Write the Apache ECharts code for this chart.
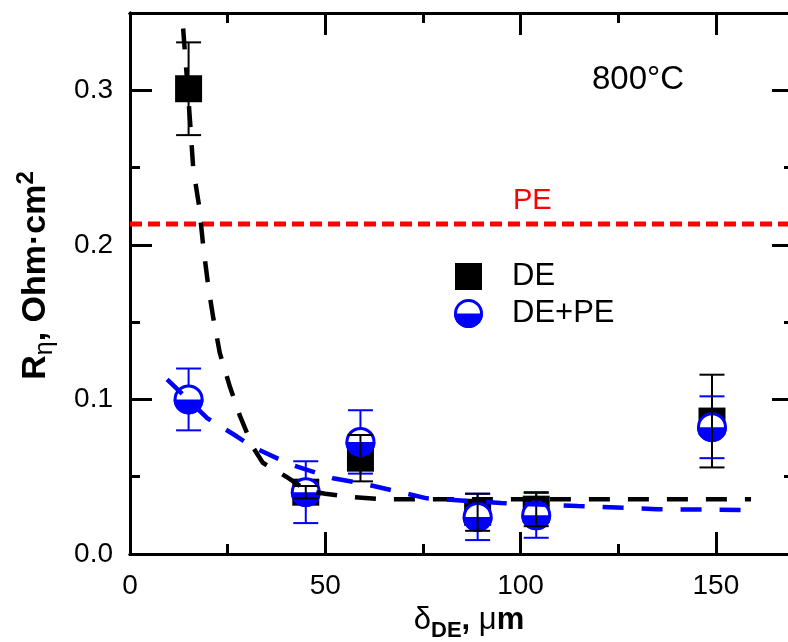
<!DOCTYPE html>
<html>
<head>
<meta charset="utf-8">
<script src="https://cdn.jsdelivr.net/npm/echarts@6/dist/echarts.min.js"></script>
<style>html,body{margin:0;padding:0;background:#fff}#c{width:788px;height:642px}</style>
</head>
<body>
<div id="c"></div>
<script>
// ---- data ----
const deX = [15, 45, 59, 89, 104, 149];
const deY = [0.301, 0.040, 0.062, 0.027, 0.029, 0.086];
const deErr = [0.030, 0.004, 0.015, 0.012, 0.011, 0.030];

const dpX = [15, 45, 59, 89, 104, 149];
const dpY = [0.100, 0.040, 0.0725, 0.024, 0.025, 0.082];
const dpErr = [0.020, 0.020, 0.0205, 0.015, 0.0145, 0.020];

const peLevel = 0.2135;
const peX = [0, 170];

const fitDeX = [13.6, 14.5, 15.4, 16.2, 17.7, 18.8, 20.1, 21.3, 23, 25.6, 28.2, 31.5, 34, 40, 45.3, 50, 56, 64, 80, 100, 130, 159];
const fitDeY = [0.340, 0.31, 0.279, 0.249, 0.225, 0.198, 0.172, 0.153, 0.130, 0.108, 0.089, 0.069, 0.059, 0.050, 0.041, 0.039, 0.037, 0.0355, 0.0355, 0.0355, 0.0355, 0.0355];

const fitDpX = [9.5, 19.7, 27.4, 31.6, 41, 52, 60.7, 67.5, 76, 95, 114.6, 135, 156.4];
const fitDpY = [0.113, 0.088, 0.076, 0.069, 0.058, 0.049, 0.045, 0.041, 0.036, 0.033, 0.031, 0.029, 0.0285];

const xTicks = {min: 0, max: 170, major: 50, minor: 25};
const yTicks = {min: 0, max: 0.35, major: 0.1, minor: 0.05};

// ---- styles ----
const FONT = 'Liberation Sans, Arial, sans-serif';
const BLUE = '#0000ff';
const RED = '#ff0000';

const pairs = (xs, ys) => xs.map((x, i) => [x, ys[i]]);
const errData = (xs, ys, es) => xs.map((x, i) => [x, ys[i] - es[i], ys[i] + es[i]]);

function errRender(color) {
  return function (params, api) {
    const x = api.value(0);
    const lo = api.coord([x, api.value(1)]);
    const hi = api.coord([x, api.value(2)]);
    const w = 12.5;
    const st = {stroke: color, lineWidth: 2};
    return {type: 'group', children: [
      {type: 'line', shape: {x1: lo[0], y1: lo[1], x2: hi[0], y2: hi[1]}, style: st},
      {type: 'line', shape: {x1: lo[0] - w, y1: lo[1], x2: lo[0] + w, y2: lo[1]}, style: st},
      {type: 'line', shape: {x1: hi[0] - w, y1: hi[1], x2: hi[0] + w, y2: hi[1]}, style: st}
    ]};
  };
}

function halfCircle(cx, cy, r) {
  return [
    {type: 'circle', shape: {cx: cx, cy: cy, r: r}, style: {fill: '#fff', stroke: BLUE, lineWidth: 3}},
    {type: 'sector', shape: {cx: cx, cy: cy, r0: 0, r: r + 1.5, startAngle: 0, endAngle: Math.PI, clockwise: true}, style: {fill: BLUE}}
  ];
}

const axisLineStyle = {show: true, onZero: false, lineStyle: {color: '#000', width: 3}};

function xAxisDef(pos, interval, tickLen, labels) {
  return {
    type: 'value', position: pos, min: xTicks.min, max: xTicks.max, interval: interval,
    axisLine: axisLineStyle,
    axisTick: {show: true, inside: true, length: tickLen, lineStyle: {color: '#000', width: 3}},
    axisLabel: labels ? {show: true, fontSize: 28, color: '#000', fontFamily: FONT, margin: 18, showMaxLabel: false} : {show: false},
    splitLine: {show: false}
  };
}
function yAxisDef(pos, interval, tickLen, labels) {
  return {
    type: 'value', position: pos, min: yTicks.min, max: yTicks.max, interval: interval,
    axisLine: axisLineStyle,
    axisTick: {show: true, inside: true, length: tickLen, lineStyle: {color: '#000', width: 3}},
    axisLabel: labels ? {show: true, fontSize: 28, color: '#000', fontFamily: FONT, margin: 17, showMaxLabel: false,
      formatter: v => v.toFixed(1)} : {show: false},
    splitLine: {show: false}
  };
}

const xMain = xAxisDef('bottom', xTicks.major, 22, true);
xMain.name = '{g|δ}{sub|DE}{b|, }{g|μ}{b|m}';
xMain.nameLocation = 'middle';
xMain.nameGap = 39;
xMain.nameTextStyle = {
  fontFamily: FONT, color: '#000', padding: [0, 0, 0, 14],
  rich: {
    g: {fontSize: 31, fontFamily: FONT, lineHeight: 44, verticalAlign: 'middle'},
    b: {fontSize: 31, fontWeight: 'bold', fontFamily: FONT, lineHeight: 44, verticalAlign: 'middle'},
    sub: {fontSize: 22, fontWeight: 'bold', fontFamily: FONT, lineHeight: 22, verticalAlign: 'bottom'}
  }
};

const yMain = yAxisDef('left', yTicks.major, 22, true);
yMain.name = '{b|R}{sub|η}{b|, Ohm·cm}{sup|2}';
yMain.nameLocation = 'middle';
yMain.nameRotate = 90;
yMain.nameGap = 72;
yMain.nameTextStyle = {
  fontFamily: FONT, color: '#000', padding: [0, 0, 0, 16],
  rich: {
    b: {fontSize: 34, fontWeight: 'bold', fontFamily: FONT, lineHeight: 44, verticalAlign: 'middle'},
    sub: {fontSize: 25, fontFamily: FONT, lineHeight: 22, verticalAlign: 'bottom'},
    sup: {fontSize: 24, fontWeight: 'bold', fontFamily: FONT, lineHeight: 22, verticalAlign: 'top'}
  }
};

const chart = echarts.init(document.getElementById('c'), null, {renderer: 'canvas'});
chart.setOption({
  animation: false,
  backgroundColor: '#fff',
  textStyle: {fontFamily: FONT},
  grid: {left: 130, right: -6, top: 13, bottom: 88, containLabel: false, outerBoundsMode: 'none'},
  xAxis: [
    xMain,
    xAxisDef('top', xTicks.major, 22, false),
    xAxisDef('bottom', xTicks.minor, 10, false),
    xAxisDef('top', xTicks.minor, 10, false)
  ],
  yAxis: [
    yMain,
    yAxisDef('right', yTicks.major, 22, false),
    yAxisDef('left', yTicks.minor, 10, false),
    yAxisDef('right', yTicks.minor, 10, false)
  ],
  series: [
    {
      name: 'DE+PE err', type: 'custom', data: errData(dpX, dpY, dpErr), z: 2,
      encode: {x: 0, y: [1, 2]}, renderItem: errRender(BLUE)
    },
    {
      name: 'DE', type: 'custom', data: pairs(deX, deY), z: 3,
      encode: {x: 0, y: 1},
      renderItem: function (params, api) {
        const p = api.coord([api.value(0), api.value(1)]);
        return {type: 'rect', shape: {x: p[0] - 13.5, y: p[1] - 13.5, width: 27, height: 27}, style: {fill: '#000'}};
      }
    },
    {
      name: 'DE+PE', type: 'custom', data: pairs(dpX, dpY), z: 4,
      encode: {x: 0, y: 1},
      renderItem: function (params, api) {
        const p = api.coord([api.value(0), api.value(1)]);
        return {type: 'group', children: halfCircle(p[0], p[1], 13.5)};
      }
    },
    {
      name: 'DE err', type: 'custom', data: errData(deX, deY, deErr), z: 5,
      encode: {x: 0, y: [1, 2]}, renderItem: errRender('#000')
    },
    {
      name: 'PE', type: 'line', data: peX.map(x => [x, peLevel]), symbol: 'none', z: 6,
      lineStyle: {color: RED, width: 5, type: [12, 6]}
    },
    {
      name: 'fit DE', type: 'line', data: pairs(fitDeX, fitDeY), symbol: 'none', z: 6,
      lineStyle: {color: '#000', width: 4.5, type: [21, 18]}
    },
    {
      name: 'fit DE+PE', type: 'line', data: pairs(fitDpX, fitDpY), symbol: 'none', z: 6,
      lineStyle: {color: BLUE, width: 4.5, type: [21, 18]}
    }
  ],
  graphic: [
    {type: 'text', left: 592, top: 63, style: {text: '800°C', fontSize: 33, fontFamily: FONT, fill: '#000'}},
    {type: 'text', left: 513, top: 186, style: {text: 'PE', fontSize: 29, fontFamily: FONT, fill: RED}},
    {type: 'rect', shape: {x: 455, y: 263, width: 27, height: 27}, style: {fill: '#000'}},
    {type: 'group', children: halfCircle(468.5, 313.5, 13)},
    {type: 'text', x: 512, y: 276, style: {text: 'DE', fontSize: 31, fontFamily: FONT, fill: '#000', verticalAlign: 'middle'}},
    {type: 'text', x: 512, y: 313, style: {text: 'DE+PE', fontSize: 31, fontFamily: FONT, fill: '#000', verticalAlign: 'middle'}}
  ]
});
</script>
</body>
</html>
